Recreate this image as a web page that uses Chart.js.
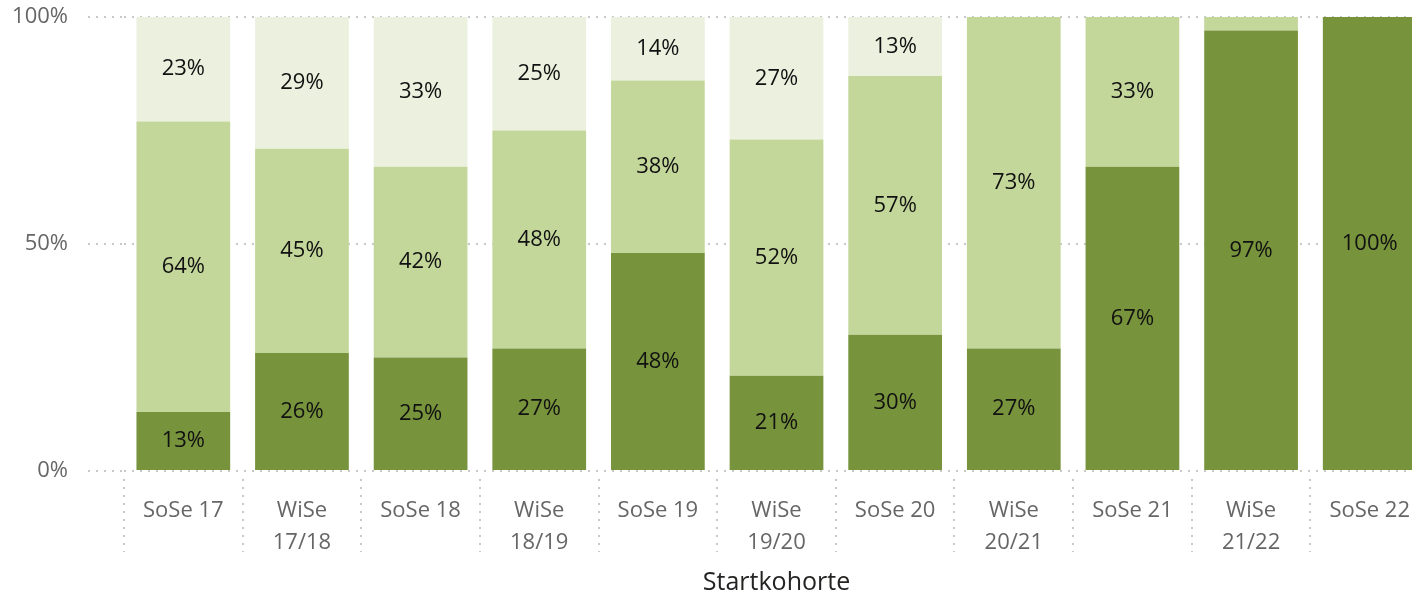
<!DOCTYPE html>
<html>
<head>
<meta charset="utf-8">
<script src="https://cdn.jsdelivr.net/npm/chart.js@4"></script>
<style>
  html, body { margin: 0; padding: 0; background: #fff; overflow: hidden; }
  #wrap { width: 1434px; height: 598px; }
</style>
</head>
<body>
<div id="wrap"><canvas id="myChart"></canvas></div>
<script>
const labels = [
    'SoSe 17',
    ['WiSe', '17/18'],
    'SoSe 18',
    ['WiSe', '18/19'],
    'SoSe 19',
    ['WiSe', '19/20'],
    'SoSe 20',
    ['WiSe', '20/21'],
    'SoSe 21',
    ['WiSe', '21/22'],
    'SoSe 22',
];

// bottom -> top
const dunkel = [13, 26, 25, 27, 48, 21, 30, 27, 67, 97, 100];
const mittel = [64, 45, 42, 48, 38, 52, 57, 73, 33, 3, 0];
const hell = [23, 29, 33, 25, 14, 27, 13, 0, 0, 0, 0];

const yTicks = [0, 50, 100];

const fontFam = "'Open Sans', 'Noto Sans', sans-serif";
const dotColor = '#c8c8c8';

// dotted separators between the x labels
const separators = {
    id: 'separators',
    afterDraw(chart) {
        const x = chart.scales.x;
        const ctx = chart.ctx;
        const half = (x.getPixelForValue(1) - x.getPixelForValue(0)) / 2;
        ctx.save();
        ctx.strokeStyle = dotColor;
        ctx.lineWidth = 2;
        ctx.setLineDash([2, 6]);
        for (let i = 0; i < labels.length; i++) {
            const px = Math.round(x.getPixelForValue(i) - half);
            ctx.beginPath();
            ctx.moveTo(px, chart.chartArea.bottom + 8);
            ctx.lineTo(px, chart.chartArea.bottom + 81);
            ctx.stroke();
        }
        ctx.restore();
    }
};

// percent labels in the middle of each segment
const segLabels = {
    id: 'segLabels',
    afterDatasetsDraw(chart) {
        const ctx = chart.ctx;
        ctx.save();
        ctx.font = '22px ' + fontFam;
        ctx.fillStyle = '#111111';
        ctx.textAlign = 'center';
        ctx.textBaseline = 'middle';
        chart.data.datasets.forEach((ds, di) => {
            const meta = chart.getDatasetMeta(di);
            meta.data.forEach((bar, i) => {
                const v = ds.data[i];
                if (!v || v < 5) return;
                ctx.fillText(v + '%', bar.x, (bar.y + bar.base) / 2);
            });
        });
        ctx.restore();
    }
};

const data = {
    labels: labels,
    datasets: [
        { label: 'dunkel', data: dunkel, backgroundColor: '#77933C' },
        { label: 'mittel', data: mittel, backgroundColor: '#C4D79B' },
        { label: 'hell', data: hell, backgroundColor: '#EBF1DE' },
    ]
};

const config = {
    type: 'bar',
    data: data,
    options: {
        responsive: true,
        maintainAspectRatio: false,
        animation: false,
        layout: { padding: 0 },
        datasets: {
            bar: { barPercentage: 0.79, categoryPercentage: 1, borderWidth: 0 }
        },
        plugins: {
            legend: { display: false },
            tooltip: { enabled: false }
        },
        scales: {
            x: {
                stacked: true,
                grid: { display: false, drawTicks: false },
                border: { display: false },
                ticks: {
                    color: '#666666',
                    padding: 24,
                    maxRotation: 0,
                    autoSkip: false,
                    font: { family: fontFam, size: 22, lineHeight: 1.45 }
                },
                title: {
                    display: true,
                    text: 'Startkohorte',
                    color: '#252423',
                    font: { family: fontFam, size: 25 },
                    padding: { top: 4, bottom: 0 }
                },
                afterFit(scale) { scale.height = 127; }
            },
            y: {
                stacked: true,
                min: 0,
                max: 100,
                afterBuildTicks(scale) { scale.ticks = yTicks.map(v => ({ value: v })); },
                grid: {
                    color: dotColor,
                    lineWidth: 2,
                    tickLength: 36,
                    tickBorderDash: [2, 6],
                    tickColor: dotColor
                },
                border: { display: false, dash: [2, 6] },
                ticks: {
                    color: '#666666',
                    padding: 20,
                    font: { family: fontFam, size: 22 },
                    callback: v => v + '%'
                },
                afterFit(scale) {
                    scale.width = 124;
                    scale.paddingTop = 17;
                    scale.paddingBottom = 0;
                }
            }
        }
    },
    plugins: [separators, segLabels]
};

const chart = new Chart(document.getElementById('myChart'), config);
</script>
</body>
</html>
